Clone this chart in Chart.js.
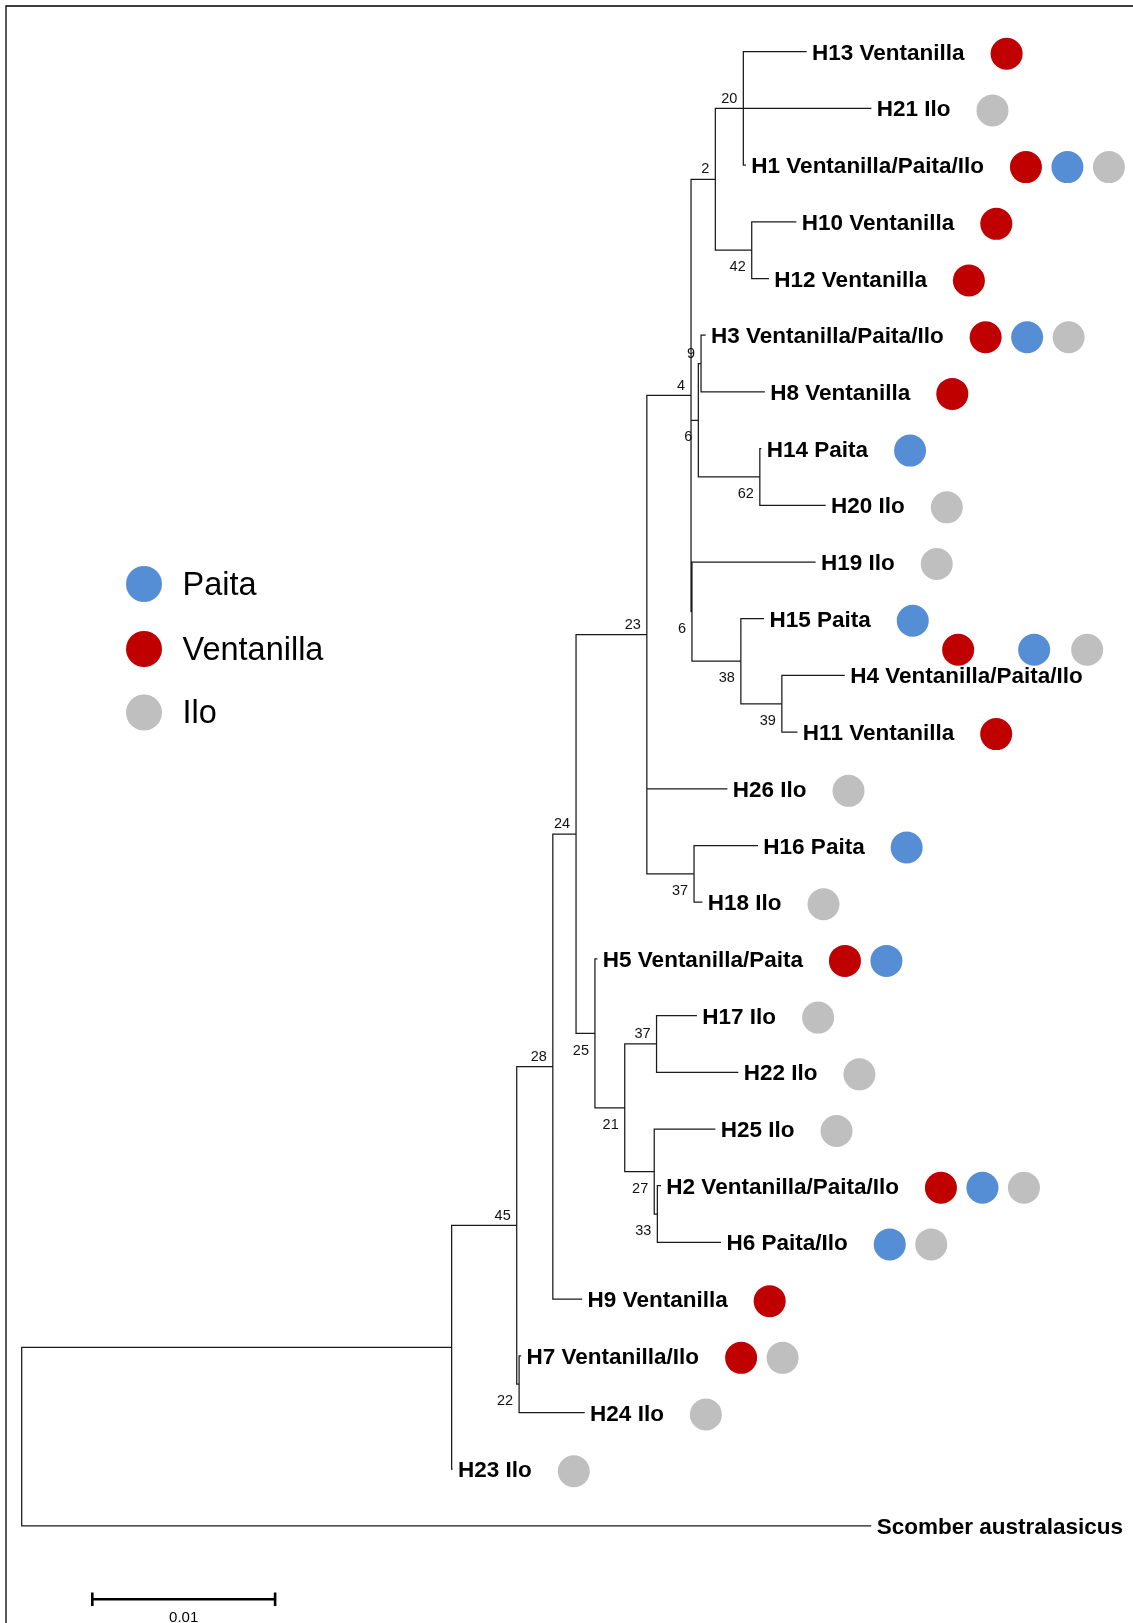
<!DOCTYPE html>
<html>
<head>
<meta charset="utf-8">
<title>Haplotype tree</title>
<script src="https://cdn.jsdelivr.net/npm/chart.js@4.4.1/dist/chart.umd.min.js"></script>
<style>
  html, body { margin: 0; padding: 0; background: #ffffff; }
  #wrap { position: relative; width: 1133px; height: 1623px; }
</style>
</head>
<body>
<div id="wrap"><canvas id="tree" width="1133" height="1623"></canvas></div>
<script>
// ---- Tree data -------------------------------------------------------------
// Terminal taxa, listed top to bottom.
const taxonIds = ['H13','H21','H1','H10','H12','H3','H8','H14','H20','H19','H15','H4','H11',
                  'H26','H16','H18','H5','H17','H22','H25','H2','H6','H9','H7','H24','H23','Scomber'];
const taxonLabels = ['H13 Ventanilla','H21 Ilo','H1 Ventanilla/Paita/Ilo','H10 Ventanilla','H12 Ventanilla',
                     'H3 Ventanilla/Paita/Ilo','H8 Ventanilla','H14 Paita','H20 Ilo','H19 Ilo','H15 Paita',
                     'H4 Ventanilla/Paita/Ilo','H11 Ventanilla','H26 Ilo','H16 Paita','H18 Ilo',
                     'H5 Ventanilla/Paita','H17 Ilo','H22 Ilo','H25 Ilo','H2 Ventanilla/Paita/Ilo',
                     'H6 Paita/Ilo','H9 Ventanilla','H7 Ventanilla/Ilo','H24 Ilo','H23 Ilo','Scomber australasicus'];
// Terminal branch lengths (substitutions per site)
const taxonBranch = [0.00343, 0.006969, 0.000109, 0.002407, 0.000908,
                     0.000219, 0.003457, 0.00005, 0.003567, 0.006729, 0.001236,
                     0.003408, 0.000821, 0.004371, 0.003463, 0.000421,
                     0.000104, 0.002177, 0.004437, 0.00331, 0.000164,
                     0.003452, 0.001575, 0.00008, 0.003556, 0.00002, 0.04644];
// Localities where each haplotype occurs: V = Ventanilla, P = Paita, I = Ilo
const taxonSites = ['V','I','VPI','V','V','VPI','V','P','I','I','P','VPI','V',
                    'I','P','I','VP','I','I','I','VPI','PI','V','VI','I','I',''];

// Internal nodes (children listed top to bottom)
const cladeIds      = ['c20','c42','c2','c9','c62','c6a','c39','c38','c6b','c4','c37a','c23',
                       'c37b','c33','c27','c21','c25','c24','c28','c22','c45','ingroup','root'];
const cladeChildren = [['H13','H21','H1'], ['H10','H12'], ['c20','c42'], ['H3','H8'], ['H14','H20'],
                       ['c9','c62'], ['H4','H11'], ['H15','c39'], ['H19','c38'], ['c2','c6a','c6b'],
                       ['H16','H18'], ['c4','H26','c37a'], ['H17','H22'], ['H2','H6'], ['H25','c33'],
                       ['c37b','c27'], ['H5','c21'], ['c23','c25'], ['c24','H9'], ['H7','H24'],
                       ['c28','c22'], ['c45','H23'], ['ingroup','Scomber']];
const cladeBranch   = [0.001532, 0.001991, 0.001329, 0.000148, 0.003364, 0.000399, 0.002243, 0.002675,
                       0.00005, 0.002418, 0.002582, 0.003873, 0.00174, 0.00017, 0.001614, 0.00163,
                       0.001034, 0.00127, 0.001975, 0.00013, 0.00356, 0.02352, 0];
// Bootstrap support (%)
const cladeSupport  = [20, 42, 2, 9, 62, 6, 39, 38, 6, 4, 37, 23, 37, 33, 27, 21, 25, 24, 28, 22, 45, null, null];

// Legend
const siteCodes  = ['P', 'V', 'I'];
const siteNames  = ['Paita', 'Ventanilla', 'Ilo'];
const siteColors = ['#558ED5', '#C00000', '#BFBFBF'];
const scaleBarLength = 0.01;

// ---- Layout of the tree in data space --------------------------------------
const node = {};
taxonIds.forEach((id, i) => { node[id] = { id, leaf: true, row: i, len: taxonBranch[i], idx: i }; });
cladeIds.forEach((id, i) => {
  node[id] = { id, leaf: false, kids: cladeChildren[i], len: cladeBranch[i], support: cladeSupport[i] };
});
cladeIds.forEach(id => node[id].kids.forEach((k, j) => {
  node[k].parent = id; node[k].firstChild = (j === 0);
}));

function placeX(id, x0) {
  const n = node[id];
  n.x = x0 + n.len;
  if (!n.leaf) n.kids.forEach(k => placeX(k, n.x));
}
function placeY(id) {
  const n = node[id];
  if (n.leaf) return n.row;
  const ys = n.kids.map(placeY);
  n.row = (ys[0] + ys[ys.length - 1]) / 2;
  return n.row;
}
placeX('root', 0);
placeY('root');

// Branch segments: horizontal edge to each child, vertical bar at each internal node
const gap = { x: null, y: null };
const branchPts = [];
cladeIds.forEach(id => {
  const n = node[id];
  const first = node[n.kids[0]], last = node[n.kids[n.kids.length - 1]];
  branchPts.push({ x: n.x, y: first.row }, { x: n.x, y: last.row }, gap);
  n.kids.forEach(k => {
    const c = node[k];
    branchPts.push({ x: n.x, y: c.row }, { x: c.x, y: c.row }, gap);
  });
});

const FONT = "'Liberation Sans', Arial, Helvetica, sans-serif";

// ---- Annotation layer: labels, support values, locality dots, legend, scale bar
const treeDecor = {
  id: 'treeDecor',
  beforeDraw(chart) {
    const ctx = chart.ctx;
    ctx.save();
    ctx.fillStyle = '#ffffff';
    ctx.fillRect(0, 0, chart.width, chart.height);
    // frame (top and left edges)
    ctx.strokeStyle = '#000';
    ctx.lineWidth = 1.3;
    ctx.beginPath();
    ctx.moveTo(6, chart.height);
    ctx.lineTo(6, 6);
    ctx.lineTo(chart.width, 6);
    ctx.stroke();
    ctx.restore();
  },
  afterDatasetsDraw(chart) {
    const ctx = chart.ctx;
    const xs = chart.scales.x, ys = chart.scales.y;
    ctx.save();

    // taxon labels and locality dots
    taxonIds.forEach((id, i) => {
      const n = node[id];
      const px = xs.getPixelForValue(n.x);
      const py = ys.getPixelForValue(n.row);
      ctx.font = 'bold 22.5px ' + FONT;
      ctx.fillStyle = '#000';
      ctx.textAlign = 'left';
      ctx.textBaseline = 'alphabetic';
      const lx = px + 6;
      ctx.fillText(taxonLabels[i], lx, py + 8);
      const w = ctx.measureText(taxonLabels[i]).width;
      const codes = taxonSites[i].split('').filter(Boolean);
      // the long H4 label leaves no room, so its dots sit in the gap above it
      const raised = (id === 'H4');
      const raisedSteps = [0, 76, 129];
      codes.forEach((c, j) => {
        const col = siteColors[siteCodes.indexOf(c)];
        let cx, cy;
        if (raised) {
          cx = lx + 108 + raisedSteps[j];
          cy = py - 25.7;
        } else {
          cx = lx + w + 42 + j * 41.5;
          cy = py + 2;
        }
        ctx.beginPath();
        ctx.arc(cx, cy, 16, 0, Math.PI * 2);
        ctx.fillStyle = col;
        ctx.fill();
      });
    });

    // bootstrap support values
    ctx.font = '14.5px ' + FONT;
    ctx.fillStyle = '#111';
    ctx.textAlign = 'right';
    ctx.textBaseline = 'alphabetic';
    cladeIds.forEach((id, i) => {
      const s = cladeSupport[i];
      if (s === null) return;
      const n = node[id];
      const px = xs.getPixelForValue(n.x);
      const py = ys.getPixelForValue(n.row);
      const cy = n.firstChild ? py - 11 : py + 16;
      ctx.fillText(String(s), px - 6, cy + 5.2);
    });

    // legend
    siteNames.forEach((name, i) => {
      const cy = [584, 649, 712.5][i];
      ctx.beginPath();
      ctx.arc(144, cy, 18, 0, Math.PI * 2);
      ctx.fillStyle = siteColors[i];
      ctx.fill();
      ctx.font = '32.5px ' + FONT;
      ctx.fillStyle = '#000';
      ctx.textAlign = 'left';
      ctx.fillText(name, 182.5, cy + 10.5);
    });

    // scale bar
    const barW = xs.getPixelForValue(scaleBarLength) - xs.getPixelForValue(0);
    const bx = 92.3, by = 1599.3;
    ctx.strokeStyle = '#000';
    ctx.lineWidth = 2.6;
    ctx.lineCap = 'butt';
    ctx.beginPath();
    ctx.moveTo(bx, by); ctx.lineTo(bx + barW, by);
    ctx.moveTo(bx, by - 6.8); ctx.lineTo(bx, by + 6.8);
    ctx.moveTo(bx + barW, by - 6.8); ctx.lineTo(bx + barW, by + 6.8);
    ctx.stroke();
    ctx.font = '15px ' + FONT;
    ctx.fillStyle = '#000';
    ctx.textAlign = 'center';
    ctx.fillText(String(scaleBarLength), bx + barW / 2, 1622);

    ctx.restore();
  }
};

new Chart(document.getElementById('tree'), {
  type: 'scatter',
  data: {
    datasets: [{
      data: branchPts,
      showLine: true,
      spanGaps: false,
      borderColor: '#1a1a1a',
      borderWidth: 1.25,
      borderCapStyle: 'square',
      borderJoinStyle: 'miter',
      pointRadius: 0,
      pointHoverRadius: 0,
      tension: 0
    }]
  },
  options: {
    responsive: false,
    animation: false,
    events: [],
    layout: { padding: 0 },
    plugins: { legend: { display: false }, tooltip: { enabled: false } },
    scales: {
      x: { type: 'linear', display: false, min: -0.001187, max: 0.060793 },
      y: { type: 'linear', display: false, min: -0.912, max: 27.712, reverse: true }
    }
  },
  plugins: [treeDecor]
});
</script>
</body>
</html>
